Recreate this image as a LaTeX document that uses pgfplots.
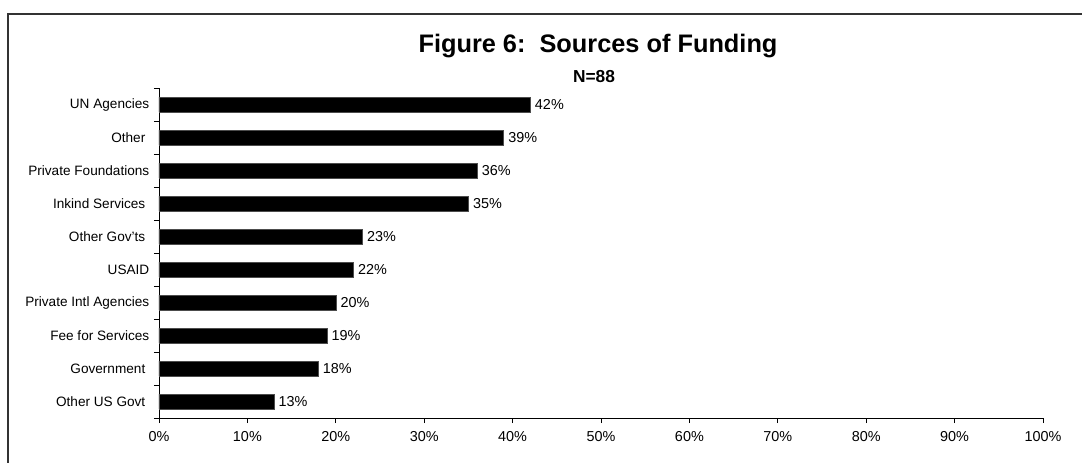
\documentclass[border=0pt]{standalone}
\usepackage{fontspec}
\setmainfont{Liberation Sans}
\usepackage{pgfplots}
\pgfplotsset{compat=1.18}

\begin{document}
\begin{tikzpicture}[x=0.75pt,y=-0.75pt]
% picture area in pixels of the reference (1082 x 463)
\useasboundingbox (0,0) rectangle (1082,463);
\draw[line width=0.8pt,black!80] (8,463) -- (8,14) -- (1082,14);

\node[font=\fontsize{19}{21}\selectfont\bfseries] at (598,46) {Figure 6:\ \ Sources of Funding};
\node[font=\fontsize{13}{15}\selectfont\bfseries] at (594,77) {N=88};

\begin{axis}[
    at={(119.25pt,-313.5pt)}, anchor=south west,
    scale only axis,
    width=663pt, height=247.5pt,
    xbar, bar width=11.25pt,
    xmin=0, xmax=100,
    ymin=-0.5, ymax=9.5,
    axis x line=bottom, axis y line=left,
    axis line style={-, black, line width=0.6pt},
    tick align=outside,
    major tick length=3.75pt, minor tick length=3.75pt,
    tick style={black, line width=0.6pt},
    xtick={0,10,...,100},
    xticklabel={\pgfmathprintnumber{\tick}\%},
    x tick label style={yshift=-3pt, font=\fontsize{10.8}{12}\selectfont},
    ytick={0,...,9},
    yticklabels={Other US Govt\kern3pt, Government\kern3pt, Fee for Services, Private Intl Agencies, USAID, Other Gov'ts\kern3pt, Inkind Services\kern3pt, Private Foundations, Other\kern3pt, UN Agencies},
    y tick label style={font=\fontsize{10.2}{12}\selectfont},
    major y tick style={draw=none},
    minor ytick={-0.5,0.5,...,9.5},
    minor y tick style={draw=black},
    /pgf/number format/assume math mode=true,
    nodes near coords={\pgfmathprintnumber{\pgfplotspointmeta}\%},
    point meta=x,
    every node near coord/.append style={font=\fontsize{10.8}{12}\selectfont, anchor=west, xshift=0pt},
    clip=false,
]
\addplot[fill=black, draw=black!70] coordinates {
    (13,0) (18,1) (19,2) (20,3) (22,4) (23,5) (35,6) (36,7) (39,8) (42,9)
};
\end{axis}
\end{tikzpicture}
\end{document}
